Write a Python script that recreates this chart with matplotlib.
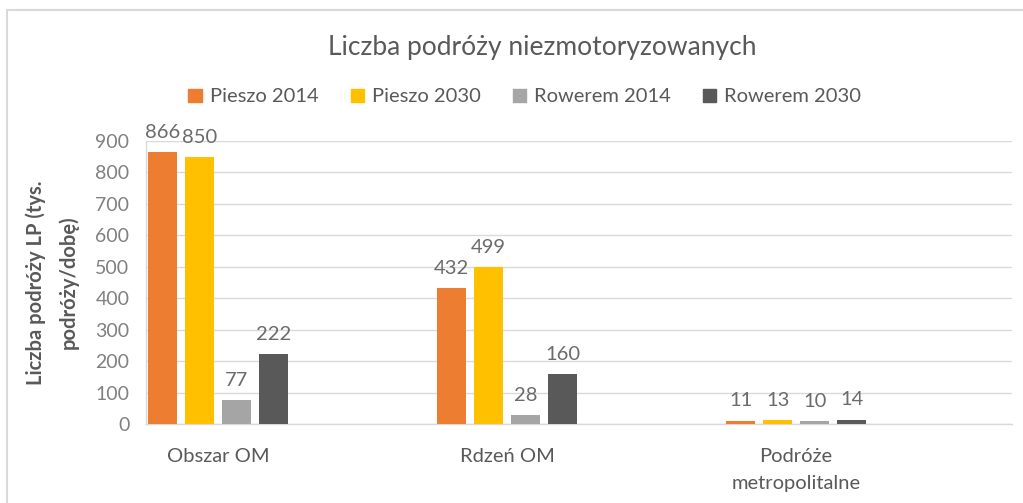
import matplotlib.pyplot as plt
import matplotlib.patches as mpatches
import numpy as np

plt.rcParams["font.family"] = ["Lato", "DejaVu Sans"]

categories = ["Obszar OM", "Rdzeń OM", "Podróże\nmetropolitalne"]
series_names = ["Pieszo 2014", "Pieszo 2030", "Rowerem 2014", "Rowerem 2030"]
pieszo_2014 = [866, 432, 11]
pieszo_2030 = [850, 499, 13]
rowerem_2014 = [77, 28, 10]
rowerem_2030 = [222, 160, 14]
colors = ["#ED7D31", "#FFC000", "#A5A5A5", "#595959"]
yticks = [0, 100, 200, 300, 400, 500, 600, 700, 800, 900]

text_col = "#595959"
label_col = "#6B6B6B"
tick_col = "#808080"
grid_col = "#D9D9D9"

fig = plt.figure(figsize=(10.23, 5.03), dpi=100)
ax = fig.add_axes([146 / 1023, 1 - 424 / 503, (1012 - 146) / 1023, (424 - 141) / 503])

x = np.arange(len(categories))
width = 0.1
step = 0.128
all_series = [pieszo_2014, pieszo_2030, rowerem_2014, rowerem_2030]
for i, (vals, name, col) in enumerate(zip(all_series, series_names, colors)):
    pos = x + (i - 1.5) * step
    bars = ax.bar(pos, vals, width, color=col, label=name, zorder=3)
    for b, v in zip(bars, vals):
        ax.annotate(str(v), (b.get_x() + b.get_width() / 2, v),
                    xytext=(0, 8), textcoords="offset points",
                    ha="center", va="bottom", fontsize=14.5, color=label_col)

ax.set_xlim(-0.249, 2.747)
ax.set_ylim(0, 900)
ax.set_yticks(yticks)
ax.set_xticks(x)
ax.set_xticklabels(categories, fontsize=14.5, color=text_col, linespacing=1.75)
ax.tick_params(axis="y", length=0, labelsize=14, labelcolor=tick_col, pad=12)
ax.tick_params(axis="x", length=0, pad=17)
ax.grid(axis="y", color=grid_col, linewidth=1, zorder=0)
for s in ["right", "top"]:
    ax.spines[s].set_visible(False)
for s in ["bottom", "left"]:
    ax.spines[s].set_color(grid_col)
    ax.spines[s].set_linewidth(1)

ax.set_ylabel("Liczba podróży LP (tys.\npodróży/dobę)", fontsize=14.5,
              fontweight="bold", color=text_col, labelpad=12, linespacing=1.75)

fig.text(0.53, 1 - 47 / 503, "Liczba podróży niezmotoryzowanych",
         ha="center", va="center", fontsize=19, color=text_col)

handles = [mpatches.Patch(color=c) for c in colors]
leg = fig.legend(handles, series_names, loc="center",
                 bbox_to_anchor=(0.513, 1 - 97 / 503), ncol=4, frameon=False,
                 fontsize=14.5, handlelength=0.65, handleheight=0.65,
                 handletextpad=0.4, columnspacing=1.6, labelcolor=text_col)

border = mpatches.Rectangle((7 / 1023, -0.2), 1.2, 0.2 + 1 - 10 / 503,
                            transform=fig.transFigure, fill=False,
                            edgecolor=grid_col, linewidth=1.5)
fig.patches.append(border)

fig.savefig("out.png", dpi=100)
